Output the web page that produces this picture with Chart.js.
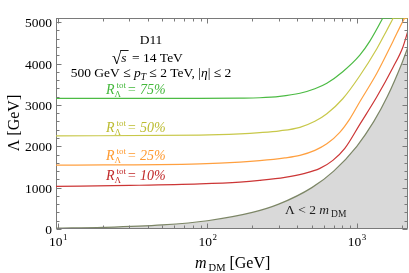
<!DOCTYPE html>
<html>
<head>
<meta charset="utf-8">
<script src="https://cdn.jsdelivr.net/npm/chart.js@4"></script>
<style>
  html, body { margin: 0; padding: 0; background: #fff; }
</style>
</head>
<body>
<canvas id="myChart" width="409" height="273"></canvas>
<script>
// values: m_DM [GeV] and Lambda [GeV]
// (last points go past the top and are clipped, as in the picture)
const m75 = [9.7, 89, 165, 224, 305, 416, 524, 630, 805, 1047, 1222, 1493, 1740];
const lam75 = [3155, 3155, 3162, 3172, 3206, 3281, 3390, 3523, 3801, 4201, 4540, 5100, 5570];

const m50 = [9.7, 89, 165, 224, 305, 416, 524, 630, 805, 1047, 1361, 1588, 1754, 2045];
const lam50 = [2252, 2269, 2300, 2329, 2373, 2458, 2603, 2785, 3148, 3705, 4358, 4806, 5100, 5584];

const m25 = [9.7, 89, 165, 224, 330, 416, 524, 630, 769, 898, 1047, 1361, 1741, 2032, 2094, 2200];
const lam25 = [1542, 1574, 1615, 1651, 1719, 1780, 1901, 2058, 2337, 2663, 3075, 3765, 4528, 5019, 5100, 5277];

const m10 = [9.7, 30.3, 89, 165, 224, 330, 449, 566, 691, 831, 1047, 1361, 1741, 2032, 2200];
const lam10 = [1029, 1053, 1090, 1133, 1174, 1247, 1344, 1465, 1659, 1949, 2530, 3196, 3898, 4395, 4794];

// parts of the curves that run along the top edge of the frame
const mTop75 = [1493, 2200];
const mTop50 = [1754, 2200];
const mTop25 = [2094, 2200];
const lamTop = [5100, 5100];

// boundary Lambda = 2 m_DM
const mBound = [9.7, 20, 50, 100, 200, 300, 500, 700, 1000, 1300, 1600, 2000, 2200];
const lamBound = [19.4, 40, 100, 200, 400, 600, 1000, 1400, 2000, 2600, 3200, 4000, 4400];

// ticks
const xMajor = [10, 100, 1000];
const xExp = ['1', '2', '3'];
const xMinor = [20, 30, 40, 50, 60, 70, 80, 90, 200, 300, 400, 500, 600, 700, 800, 900, 2000];
const yMajor = [0, 1000, 2000, 3000, 4000, 5000];
const yMinor = [200, 400, 600, 800, 1200, 1400, 1600, 1800, 2200, 2400, 2600, 2800,
                3200, 3400, 3600, 3800, 4200, 4400, 4600, 4800];

const serif = '"Liberation Serif", "DejaVu Serif", serif';
const frameColor = '#7a7a7a';

function pts(ms, ls) {
    return ms.map(function (m, i) { return { x: m, y: ls[i] }; });
}

// draw a row of text pieces, each with its own font and offset
function textRow(ctx, parts, x, y, align) {
    let w = 0;
    parts.forEach(function (p) {
        ctx.font = p.f;
        p.w = ctx.measureText(p.t).width;
        w += p.w + (p.gap || 0);
    });
    let cx = align === 'center' ? x - w / 2 : x;
    parts.forEach(function (p) {
        ctx.font = p.f;
        cx += (p.gap || 0);
        ctx.fillText(p.t, cx, y + (p.dy || 0));
        cx += p.w;
    });
}

function rLabel(ctx, x, y, pct, color) {
    ctx.fillStyle = color;
    ctx.font = 'italic 14px ' + serif;
    ctx.fillText('R', x, y);
    let cx = x + ctx.measureText('R').width;
    ctx.font = '9px ' + serif;
    ctx.fillText('\u039B', cx, y + 3);
    ctx.font = '9px ' + serif;
    ctx.fillText('tot', cx + 2, y - 6);
    cx += 2 + ctx.measureText('tot').width + 1;
    ctx.font = 'italic 14px ' + serif;
    ctx.fillText('= ' + pct, cx, y);
}

function edges(chart) {
    const a = chart.chartArea;
    return {
        L: Math.round(a.left) + 0.5, R: Math.round(a.right) - 0.5,
        T: Math.round(a.top) + 0.5, B: Math.round(a.bottom) - 0.5
    };
}

const frame = {
    id: 'frame',
    beforeDatasetsDraw(chart) {
        const ctx = chart.ctx;
        const e = edges(chart);
        ctx.save();
        ctx.strokeStyle = frameColor;
        ctx.lineWidth = 1;
        ctx.strokeRect(e.L, e.T, e.R - e.L, e.B - e.T);
        ctx.restore();
    },
    afterDatasetsDraw(chart) {
        const ctx = chart.ctx;
        const xs = chart.scales.x;
        const ys = chart.scales.y;
        const e = edges(chart);
        ctx.save();
        ctx.strokeStyle = frameColor;
        ctx.lineWidth = 1;
        ctx.beginPath();
        // right and bottom edges sit on the grey fill
        ctx.moveTo(e.R, e.T); ctx.lineTo(e.R, e.B); ctx.lineTo(e.L, e.B);
        xMajor.concat(xMinor).forEach(function (v) {
            const len = xMajor.indexOf(v) >= 0 ? 5 : 3;
            const px = Math.round(xs.getPixelForValue(v)) + 0.5;
            ctx.moveTo(px, e.B); ctx.lineTo(px, e.B - len);
            ctx.moveTo(px, e.T); ctx.lineTo(px, e.T + len);
        });
        yMajor.concat(yMinor).forEach(function (v) {
            const len = yMajor.indexOf(v) >= 0 ? 5 : 3;
            const py = Math.round(ys.getPixelForValue(v)) + 0.5;
            ctx.moveTo(e.L, py); ctx.lineTo(e.L + len, py);
            ctx.moveTo(e.R, py); ctx.lineTo(e.R - len, py);
        });
        ctx.stroke();
        ctx.restore();
    },
    afterDraw(chart) {
        const ctx = chart.ctx;
        const a = chart.chartArea;
        const xs = chart.scales.x;
        const ys = chart.scales.y;
        ctx.save();
        ctx.fillStyle = '#000';
        ctx.textBaseline = 'alphabetic';

        // y tick labels
        ctx.font = '13.5px ' + serif;
        ctx.textAlign = 'right';
        yMajor.forEach(function (v) {
            ctx.fillText(String(v), a.left - 4, ys.getPixelForValue(v) + 5);
        });

        // x tick labels 10^n
        ctx.textAlign = 'left';
        xMajor.forEach(function (v, i) {
            ctx.font = '13.5px ' + serif;
            const w1 = ctx.measureText('10').width;
            ctx.font = '9px ' + serif;
            const w2 = ctx.measureText(xExp[i]).width;
            const px = xs.getPixelForValue(v) - (w1 + w2) / 2;
            ctx.font = '13.5px ' + serif;
            ctx.fillText('10', px, 246);
            ctx.font = '9px ' + serif;
            ctx.fillText(xExp[i], px + w1 + 0.5, 240);
        });

        // axis titles
        textRow(ctx, [
            { t: 'm', f: 'italic 16px ' + serif },
            { t: 'DM', f: '10.5px ' + serif, dy: 3, gap: 2 },
            { t: ' [GeV]', f: '16px ' + serif }
        ], 195, 268, 'left');

        ctx.save();
        ctx.translate(19, 123);
        ctx.rotate(-Math.PI / 2);
        ctx.textAlign = 'center';
        ctx.font = '16px ' + serif;
        ctx.fillText('\u039B [GeV]', 0, 0);
        ctx.restore();

        // header text
        ctx.textAlign = 'left';
        ctx.fillStyle = '#000';
        textRow(ctx, [{ t: 'D11', f: '13.5px ' + serif }], 151, 44, 'center');

        ctx.font = '17px ' + serif;
        ctx.fillText('\u221A', 112, 64);
        let sx = 112 + ctx.measureText('\u221A').width - 1;
        ctx.font = 'italic 13.5px ' + serif;
        ctx.fillText('s', sx + 1, 62);
        const ws = ctx.measureText('s').width;
        ctx.strokeStyle = '#000';
        ctx.lineWidth = 0.9;
        ctx.beginPath();
        ctx.moveTo(sx, 50.5); ctx.lineTo(sx + ws + 3, 50.5);
        ctx.stroke();
        ctx.font = '13.5px ' + serif;
        ctx.fillText(' = 14 TeV', sx + ws + 3, 62);

        textRow(ctx, [
            { t: '500 GeV \u2264 ', f: '13.5px ' + serif },
            { t: 'p', f: 'italic 13.5px ' + serif },
            { t: 'T', f: 'italic 9.5px ' + serif, dy: 3 },
            { t: ' \u2264 2 TeV, |', f: '13.5px ' + serif },
            { t: '\u03B7', f: 'italic 13.5px ' + serif },
            { t: '| \u2264 2', f: '13.5px ' + serif }
        ], 151, 77, 'center');

        // curve labels
        rLabel(ctx, 106, 94, '75%', '#44b83c');
        rLabel(ctx, 106, 132, '50%', '#bcbc30');
        rLabel(ctx, 106, 160, '25%', '#ff9a30');
        rLabel(ctx, 106, 180, '10%', '#c02828');

        ctx.fillStyle = '#222';
        textRow(ctx, [
            { t: '\u039B < 2 ', f: '13.5px ' + serif },
            { t: 'm', f: 'italic 13.5px ' + serif },
            { t: 'DM', f: '9.5px ' + serif, dy: 3, gap: 2 }
        ], 285, 214, 'left');
        ctx.restore();
    }
};

function line(label, ms, ls, color) {
    return {
        label: label,
        data: pts(ms, ls),
        borderColor: color,
        borderWidth: 1.2,
        pointRadius: 0,
        fill: false,
        cubicInterpolationMode: 'monotone'
    };
}

function createChart() {
    const bound = line('bound', mBound, lamBound, '#7c8666');
    bound.fill = 'start';
    bound.backgroundColor = '#d9d9d9';

    const data = {
        datasets: [
            bound,
            line('10%', m10, lam10, '#cc3636'),
            line('25%', m25, lam25, '#ffa040'),
            line('25% top', mTop25, lamTop, '#ffa040'),
            line('50%', m50, lam50, '#c8c84a'),
            line('50% top', mTop50, lamTop, '#c8c84a'),
            line('75%', m75, lam75, '#4cbb44'),
            line('75% top', mTop75, lamTop, '#4cbb44')
        ]
    };

    const options = {
        responsive: false,
        animation: false,
        devicePixelRatio: 1,
        layout: { padding: { left: 56, top: 18, right: 1, bottom: 44 } },
        plugins: {
            legend: { display: false },
            tooltip: { enabled: false }
        },
        scales: {
            x: { type: 'logarithmic', min: 9.7, max: 2200, display: false },
            y: { type: 'linear', min: 0, max: 5100, display: false }
        }
    };

    const ctx = document.getElementById('myChart').getContext('2d');
    new Chart(ctx, { type: 'line', data: data, options: options, plugins: [frame] });
}

document.addEventListener('DOMContentLoaded', function () {
    createChart();
});
</script>
</body>
</html>
